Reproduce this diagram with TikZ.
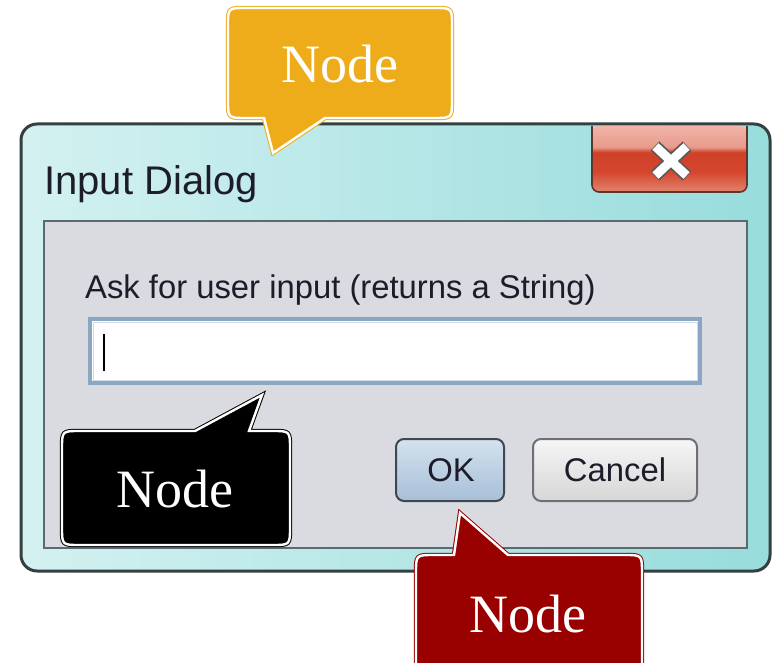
\documentclass[tikz,border=0pt]{standalone}
\usepackage{fontspec}
\usetikzlibrary{calc}
\setmainfont{Liberation Serif}
\newfontfamily\uifont{Liberation Sans}
\definecolor{frameDark}{HTML}{33403F}
\definecolor{frameLight}{HTML}{D4F1F1}
\definecolor{frameMid}{HTML}{98DCDC}
\definecolor{panelFill}{HTML}{D9DBE1}
\definecolor{panelLine}{HTML}{5A6B70}
\definecolor{fieldLine}{HTML}{8CA6C2}
\definecolor{uiText}{HTML}{1C1C2A}
\definecolor{okTop}{HTML}{D4E2EE}
\definecolor{okBot}{HTML}{A7BFD7}
\definecolor{okLine}{HTML}{3E4852}
\definecolor{cnTop}{HTML}{F6F6F6}
\definecolor{cnBot}{HTML}{D6D6D8}
\definecolor{cnLine}{HTML}{6E7074}
\definecolor{cbBot}{HTML}{E2846E}
\definecolor{cbMid}{HTML}{D4472E}
\definecolor{cbDark}{HTML}{CF4028}
\definecolor{cbHi}{HTML}{E89A8A}
\definecolor{cbTop}{HTML}{F0B4A8}
\definecolor{cbLine}{HTML}{5E3630}
\definecolor{calloutOrange}{HTML}{EEAC1B}
\definecolor{calloutRed}{HTML}{990000}
\pgfdeclareverticalshading{closeshade}{100bp}{color(0bp)=(cbBot); color(25bp)=(cbBot); color(40bp)=(cbMid); color(55bp)=(cbDark); color(59bp)=(cbHi); color(75bp)=(cbTop); color(100bp)=(cbTop)}
\tikzset{
  uitext/.style={font=\uifont\fontsize{32.8}{38}\selectfont, text=uiText, inner sep=0pt},
  calloutshape/.style={line width=1pt, double=white, double distance=2.4pt},
  callouttext/.style={font=\fontsize{54}{60}\selectfont, text=white, inner sep=0pt, anchor=base},
  uibutton/.style={rounded corners=8, line width=2pt},
}
\begin{document}
\begin{tikzpicture}[x=1pt,y=-1pt]
\useasboundingbox (0,0) rectangle (773,663);
\clip (0,0) rectangle (773,663);
\fill[white] (0,0) rectangle (773,663);
% window frame
\path[draw=frameDark, line width=3pt, rounded corners=16, left color=frameLight, right color=frameMid]
  (21,124) rectangle (770,571);
% title
\node[uitext, font=\uifont\fontsize{40}{44}\selectfont, anchor=base west] (title) at (44,194) {Input Dialog};
% close button
\path[shading=closeshade, rounded corners=7]
  (592,126) -- (592,192) -- (747,192) -- (747,126) -- cycle;
\draw[cbLine, line width=1.6pt, rounded corners=7]
  (592,126) -- (592,192) -- (747,192) -- (747,126);
\coordinate (xc) at (671,161);
\draw[gray!70!black, line width=12.5pt] ($(xc)+(-16,-15)$) -- ($(xc)+(16,15)$);
\draw[gray!70!black, line width=12.5pt] ($(xc)+(16,-15)$) -- ($(xc)+(-16,15)$);
\draw[white, line width=9pt] ($(xc)+(-15.5,-14.5)$) -- ($(xc)+(15.5,14.5)$);
\draw[white, line width=9pt] ($(xc)+(15.5,-14.5)$) -- ($(xc)+(-15.5,14.5)$);
% panel
\path[fill=panelFill, draw=panelLine, line width=2.4pt] (44,221) rectangle (747,548);
\node[uitext, anchor=base west] (prompt) at (85,298) {Ask for user input (returns a String)};
% text field
\path[fill=white, draw=fieldLine, line width=4pt] (90,319) rectangle (700,383);
\draw[fieldLine!40!white, line width=1pt] (93,322) rectangle (697,380);
\draw[black, line width=2pt] (104,334) -- (104,371);
% buttons
\path[uibutton, top color=okTop, bottom color=okBot, draw=okLine] (396,439) rectangle (504,501);
\node[uitext] (ok) at (451,470) {OK};
\path[uibutton, top color=cnTop, bottom color=cnBot, draw=cnLine] (533,439) rectangle (697,501);
\node[uitext] (cancel) at (615,470) {Cancel};
% orange callout
\path[calloutshape, draw=calloutOrange, fill=calloutOrange]
  (264,118) -- (273,153) -- (325,118) -- (434,118) .. controls (452,118) .. (452,100)
  -- (452,26) .. controls (452,8) .. (434,8) -- (246,8) .. controls (228,8) .. (228,26)
  -- (228,100) .. controls (228,118) .. (246,118) -- cycle;
\node[callouttext] (n1) at (340,83) {Node};
% black callout
\path[calloutshape, draw=black, fill=black]
  (195,431) -- (262,395) -- (249,431) -- (272,431) .. controls (290,431) .. (290,449)
  -- (290,527) .. controls (290,545) .. (272,545) -- (80,545) .. controls (62,545) .. (62,527)
  -- (62,449) .. controls (62,431) .. (80,431) -- cycle;
\node[callouttext] (n2) at (175,507) {Node};
% red callout
\path[calloutshape, draw=calloutRed, fill=calloutRed]
  (454,555) -- (460,513) -- (508,555) -- (624,555) .. controls (642,555) .. (642,573)
  -- (642,700) -- (416,700) -- (416,573) .. controls (416,555) .. (434,555) -- cycle;
\node[callouttext] (n3) at (528,632) {Node};
\end{tikzpicture}
\end{document}
